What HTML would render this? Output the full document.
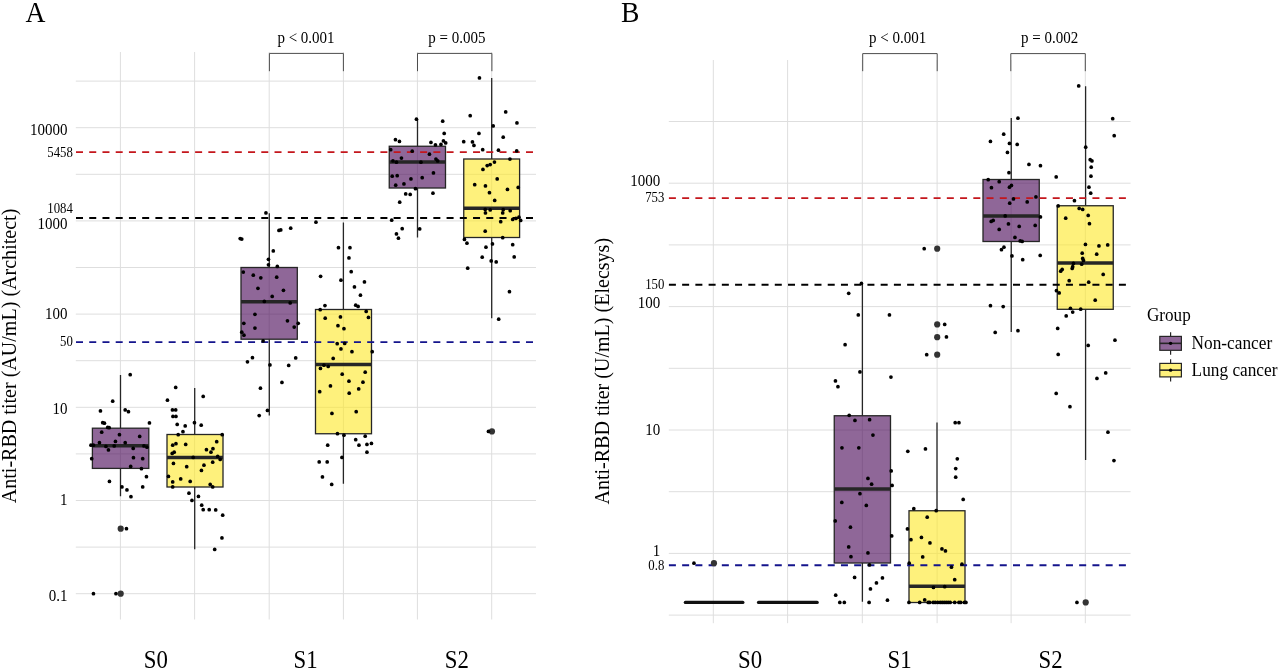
<!DOCTYPE html>
<html lang="en">
<head>
<meta charset="utf-8">
<title>Anti-RBD titer by group</title>
<style>
html,body{margin:0;padding:0;background:#fff;}
body{width:1280px;height:671px;overflow:hidden;font-family:"Liberation Serif",serif;}
svg{display:block;}
svg text{font-family:"Liberation Serif",serif;}
</style>
</head>
<body>
<svg width="1280" height="671" viewBox="0 0 1280 671" fill="#000">
<rect width="1280" height="671" fill="#fff"/>
<g stroke="#dedede" stroke-width="1" fill="none">
<line x1="120.4" y1="52" x2="120.4" y2="619.5"/>
<line x1="194.6" y1="52" x2="194.6" y2="619.5"/>
<line x1="269.2" y1="52" x2="269.2" y2="619.5"/>
<line x1="343.4" y1="52" x2="343.4" y2="619.5"/>
<line x1="417.4" y1="52" x2="417.4" y2="619.5"/>
<line x1="491.7" y1="52" x2="491.7" y2="619.5"/>
<line x1="75.8" y1="81.1" x2="536" y2="81.1"/>
<line x1="75.8" y1="127.7" x2="536" y2="127.7"/>
<line x1="75.8" y1="174.3" x2="536" y2="174.3"/>
<line x1="75.8" y1="220.9" x2="536" y2="220.9"/>
<line x1="75.8" y1="267.5" x2="536" y2="267.5"/>
<line x1="75.8" y1="314.1" x2="536" y2="314.1"/>
<line x1="75.8" y1="360.7" x2="536" y2="360.7"/>
<line x1="75.8" y1="407.3" x2="536" y2="407.3"/>
<line x1="75.8" y1="453.9" x2="536" y2="453.9"/>
<line x1="75.8" y1="500.5" x2="536" y2="500.5"/>
<line x1="75.8" y1="547.1" x2="536" y2="547.1"/>
<line x1="75.8" y1="593.7" x2="536" y2="593.7"/>
</g>
<g stroke="#262626" stroke-width="1.3" fill="none">
<line x1="120.5" y1="375" x2="120.5" y2="428.2"/>
<line x1="120.5" y1="468.4" x2="120.5" y2="496.25"/>
<rect x="92.4" y="428.2" width="56.4" height="40.2" fill="#440154" fill-opacity="0.6"/>
<line x1="92.4" y1="445.75" x2="148.8" y2="445.75" stroke-width="3.3"/>
</g>
<g stroke="#262626" stroke-width="1.3" fill="none">
<line x1="194.7" y1="388" x2="194.7" y2="434.5"/>
<line x1="194.7" y1="487" x2="194.7" y2="549.25"/>
<rect x="167" y="434.5" width="56" height="52.5" fill="#FDE725" fill-opacity="0.6"/>
<line x1="167" y1="457.5" x2="223" y2="457.5" stroke-width="3.3"/>
</g>
<g stroke="#262626" stroke-width="1.3" fill="none">
<line x1="269.3" y1="213.25" x2="269.3" y2="267.5"/>
<line x1="269.3" y1="339.2" x2="269.3" y2="415.4"/>
<rect x="241" y="267.5" width="56.3" height="71.7" fill="#440154" fill-opacity="0.6"/>
<line x1="241" y1="301.75" x2="297.3" y2="301.75" stroke-width="3.3"/>
</g>
<g stroke="#262626" stroke-width="1.3" fill="none">
<line x1="343.4" y1="222.5" x2="343.4" y2="309.5"/>
<line x1="343.4" y1="433.75" x2="343.4" y2="483.75"/>
<rect x="315.5" y="309.5" width="56" height="124.25" fill="#FDE725" fill-opacity="0.6"/>
<line x1="315.5" y1="364.5" x2="371.5" y2="364.5" stroke-width="3.3"/>
</g>
<g stroke="#262626" stroke-width="1.3" fill="none">
<line x1="417.5" y1="119" x2="417.5" y2="146.25"/>
<line x1="417.5" y1="188" x2="417.5" y2="237.5"/>
<rect x="389.25" y="146.25" width="56.25" height="41.75" fill="#440154" fill-opacity="0.6"/>
<line x1="389.25" y1="162" x2="445.5" y2="162" stroke-width="3.3"/>
</g>
<g stroke="#262626" stroke-width="1.3" fill="none">
<line x1="491.7" y1="78" x2="491.7" y2="159"/>
<line x1="491.7" y1="237.5" x2="491.7" y2="318.25"/>
<rect x="463.75" y="159" width="55.85" height="78.5" fill="#FDE725" fill-opacity="0.6"/>
<line x1="463.75" y1="208.25" x2="519.6" y2="208.25" stroke-width="3.3"/>
</g>
<g stroke-width="1.8" stroke-dasharray="7 6.235" fill="none">
<line x1="76" y1="152.2" x2="536.5" y2="152.2" stroke="#c4161c"/>
<line x1="76" y1="218" x2="536.5" y2="218" stroke="#000000"/>
<line x1="76" y1="342.2" x2="536.5" y2="342.2" stroke="#14148c"/>
</g>
<g fill="#333">
<circle cx="120.7" cy="528.7" r="3.1"/>
<circle cx="120.7" cy="593.7" r="3.1"/>
<circle cx="491.95" cy="431.45" r="3.1"/>
</g>
<g fill="#000">
<circle cx="479.45" cy="77.95" r="1.85"/>
<circle cx="416.45" cy="119.2" r="1.85"/>
<circle cx="442.7" cy="121.2" r="1.85"/>
<circle cx="470.2" cy="115.7" r="1.85"/>
<circle cx="505.7" cy="111.95" r="1.85"/>
<circle cx="516.95" cy="122.95" r="1.85"/>
<circle cx="493.2" cy="125.95" r="1.85"/>
<circle cx="444.2" cy="133.45" r="1.85"/>
<circle cx="478.95" cy="133.45" r="1.85"/>
<circle cx="503.2" cy="137.2" r="1.85"/>
<circle cx="395.45" cy="139.7" r="1.85"/>
<circle cx="399.45" cy="141.45" r="1.85"/>
<circle cx="430.95" cy="142.45" r="1.85"/>
<circle cx="435.45" cy="144.95" r="1.85"/>
<circle cx="440.95" cy="144.45" r="1.85"/>
<circle cx="443.45" cy="140.95" r="1.85"/>
<circle cx="445.7" cy="142.95" r="1.85"/>
<circle cx="463.7" cy="141.7" r="1.85"/>
<circle cx="472.45" cy="141.95" r="1.85"/>
<circle cx="473.95" cy="145.45" r="1.85"/>
<circle cx="482.7" cy="149.7" r="1.85"/>
<circle cx="498.45" cy="150.2" r="1.85"/>
<circle cx="516.7" cy="150.95" r="1.85"/>
<circle cx="390.7" cy="149.7" r="1.85"/>
<circle cx="412.2" cy="151.2" r="1.85"/>
<circle cx="429.45" cy="154.2" r="1.85"/>
<circle cx="401.45" cy="158.1" r="1.85"/>
<circle cx="392.95" cy="160.95" r="1.85"/>
<circle cx="396.45" cy="162.2" r="1.85"/>
<circle cx="420.95" cy="162.2" r="1.85"/>
<circle cx="435.95" cy="159.1" r="1.85"/>
<circle cx="437.7" cy="160.95" r="1.85"/>
<circle cx="509.95" cy="159.1" r="1.85"/>
<circle cx="494.45" cy="162.1" r="1.85"/>
<circle cx="490.2" cy="164.6" r="1.85"/>
<circle cx="487.2" cy="165.6" r="1.85"/>
<circle cx="433.45" cy="172.95" r="1.85"/>
<circle cx="422.2" cy="177.7" r="1.85"/>
<circle cx="392.2" cy="176.2" r="1.85"/>
<circle cx="397.2" cy="175.7" r="1.85"/>
<circle cx="410.95" cy="178.95" r="1.85"/>
<circle cx="403.95" cy="183.95" r="1.85"/>
<circle cx="395.7" cy="185.2" r="1.85"/>
<circle cx="415.45" cy="188.7" r="1.85"/>
<circle cx="405.7" cy="193.95" r="1.85"/>
<circle cx="410.2" cy="194.45" r="1.85"/>
<circle cx="432.95" cy="193.2" r="1.85"/>
<circle cx="399.7" cy="202.2" r="1.85"/>
<circle cx="391.7" cy="220.2" r="1.85"/>
<circle cx="402.2" cy="228.7" r="1.85"/>
<circle cx="419.7" cy="228.95" r="1.85"/>
<circle cx="396.45" cy="233.95" r="1.85"/>
<circle cx="398.45" cy="238.2" r="1.85"/>
<circle cx="482.95" cy="169.45" r="1.85"/>
<circle cx="497.2" cy="178.95" r="1.85"/>
<circle cx="474.7" cy="184.7" r="1.85"/>
<circle cx="485.45" cy="185.95" r="1.85"/>
<circle cx="518.2" cy="187.45" r="1.85"/>
<circle cx="507.45" cy="189.45" r="1.85"/>
<circle cx="489.45" cy="192.7" r="1.85"/>
<circle cx="494.7" cy="200.45" r="1.85"/>
<circle cx="485.2" cy="209.45" r="1.85"/>
<circle cx="490.2" cy="209.95" r="1.85"/>
<circle cx="503.2" cy="209.7" r="1.85"/>
<circle cx="510.2" cy="210.7" r="1.85"/>
<circle cx="485.45" cy="212.95" r="1.85"/>
<circle cx="502.7" cy="212.95" r="1.85"/>
<circle cx="518.95" cy="217.2" r="1.85"/>
<circle cx="515.95" cy="218.45" r="1.85"/>
<circle cx="512.7" cy="219.45" r="1.85"/>
<circle cx="520.7" cy="220.45" r="1.85"/>
<circle cx="500.7" cy="221.7" r="1.85"/>
<circle cx="485.2" cy="231.2" r="1.85"/>
<circle cx="502.7" cy="237.7" r="1.85"/>
<circle cx="464.45" cy="239.45" r="1.85"/>
<circle cx="466.95" cy="243.2" r="1.85"/>
<circle cx="492.45" cy="243.95" r="1.85"/>
<circle cx="512.7" cy="244.7" r="1.85"/>
<circle cx="485.95" cy="247.2" r="1.85"/>
<circle cx="482.2" cy="257.2" r="1.85"/>
<circle cx="514.2" cy="256.95" r="1.85"/>
<circle cx="491.2" cy="260.95" r="1.85"/>
<circle cx="496.2" cy="261.95" r="1.85"/>
<circle cx="467.7" cy="268.2" r="1.85"/>
<circle cx="509.45" cy="291.7" r="1.85"/>
<circle cx="498.7" cy="319.2" r="1.85"/>
<circle cx="488.45" cy="431.45" r="1.85"/>
<circle cx="265.95" cy="212.95" r="1.85"/>
<circle cx="240.2" cy="238.6" r="1.85"/>
<circle cx="241.8" cy="239.1" r="1.85"/>
<circle cx="278.95" cy="230.45" r="1.85"/>
<circle cx="280.8" cy="229.95" r="1.85"/>
<circle cx="290.7" cy="228.2" r="1.85"/>
<circle cx="273.3" cy="250.95" r="1.85"/>
<circle cx="268.45" cy="259.3" r="1.85"/>
<circle cx="268.45" cy="264.8" r="1.85"/>
<circle cx="277.3" cy="266.45" r="1.85"/>
<circle cx="243.3" cy="272.1" r="1.85"/>
<circle cx="253.3" cy="275.2" r="1.85"/>
<circle cx="260.8" cy="277.8" r="1.85"/>
<circle cx="276.7" cy="277.2" r="1.85"/>
<circle cx="257.95" cy="288.3" r="1.85"/>
<circle cx="283.45" cy="290.3" r="1.85"/>
<circle cx="272.2" cy="296.45" r="1.85"/>
<circle cx="264.3" cy="301.45" r="1.85"/>
<circle cx="290.2" cy="302.95" r="1.85"/>
<circle cx="254.95" cy="314.3" r="1.85"/>
<circle cx="287.45" cy="320.8" r="1.85"/>
<circle cx="243.8" cy="323.3" r="1.85"/>
<circle cx="298.2" cy="323.3" r="1.85"/>
<circle cx="254.95" cy="328.1" r="1.85"/>
<circle cx="294.2" cy="327.1" r="1.85"/>
<circle cx="241.8" cy="332.2" r="1.85"/>
<circle cx="243.95" cy="335.2" r="1.85"/>
<circle cx="263.1" cy="340.95" r="1.85"/>
<circle cx="252.45" cy="357.7" r="1.85"/>
<circle cx="247.45" cy="361.8" r="1.85"/>
<circle cx="295.7" cy="357.95" r="1.85"/>
<circle cx="269.95" cy="364.95" r="1.85"/>
<circle cx="288.7" cy="365.45" r="1.85"/>
<circle cx="281.95" cy="382.45" r="1.85"/>
<circle cx="260.45" cy="388.2" r="1.85"/>
<circle cx="267.45" cy="410.45" r="1.85"/>
<circle cx="259.2" cy="415.6" r="1.85"/>
<circle cx="315.95" cy="222.2" r="1.85"/>
<circle cx="338.45" cy="247.7" r="1.85"/>
<circle cx="349.95" cy="247.7" r="1.85"/>
<circle cx="348.95" cy="257.95" r="1.85"/>
<circle cx="351.2" cy="271.7" r="1.85"/>
<circle cx="320.6" cy="276.3" r="1.85"/>
<circle cx="340.95" cy="280.2" r="1.85"/>
<circle cx="364.45" cy="281.95" r="1.85"/>
<circle cx="354.45" cy="286.95" r="1.85"/>
<circle cx="360.45" cy="295.2" r="1.85"/>
<circle cx="324.95" cy="305.6" r="1.85"/>
<circle cx="355.7" cy="305.2" r="1.85"/>
<circle cx="358.1" cy="306.45" r="1.85"/>
<circle cx="320.2" cy="309.7" r="1.85"/>
<circle cx="366.2" cy="311.45" r="1.85"/>
<circle cx="325.2" cy="318.2" r="1.85"/>
<circle cx="340.45" cy="316.95" r="1.85"/>
<circle cx="368.45" cy="317.45" r="1.85"/>
<circle cx="337.95" cy="325.7" r="1.85"/>
<circle cx="343.95" cy="328.7" r="1.85"/>
<circle cx="337.2" cy="343.7" r="1.85"/>
<circle cx="344.7" cy="343.45" r="1.85"/>
<circle cx="340.95" cy="348.95" r="1.85"/>
<circle cx="351.95" cy="351.7" r="1.85"/>
<circle cx="372.2" cy="351.7" r="1.85"/>
<circle cx="333.2" cy="358.45" r="1.85"/>
<circle cx="323.95" cy="365.2" r="1.85"/>
<circle cx="328.2" cy="366.45" r="1.85"/>
<circle cx="320.45" cy="368.45" r="1.85"/>
<circle cx="365.2" cy="372.2" r="1.85"/>
<circle cx="342.2" cy="374.2" r="1.85"/>
<circle cx="348.95" cy="381.2" r="1.85"/>
<circle cx="362.95" cy="382.2" r="1.85"/>
<circle cx="330.45" cy="385.95" r="1.85"/>
<circle cx="358.7" cy="388.95" r="1.85"/>
<circle cx="319.7" cy="391.7" r="1.85"/>
<circle cx="349.2" cy="393.2" r="1.85"/>
<circle cx="356.2" cy="411.7" r="1.85"/>
<circle cx="331.95" cy="413.45" r="1.85"/>
<circle cx="337.45" cy="433.7" r="1.85"/>
<circle cx="343.95" cy="435.2" r="1.85"/>
<circle cx="365.2" cy="436.2" r="1.85"/>
<circle cx="355.7" cy="439.7" r="1.85"/>
<circle cx="327.7" cy="445.2" r="1.85"/>
<circle cx="358.95" cy="445.2" r="1.85"/>
<circle cx="366.95" cy="444.45" r="1.85"/>
<circle cx="371.45" cy="443.45" r="1.85"/>
<circle cx="366.95" cy="452.2" r="1.85"/>
<circle cx="341.95" cy="457.45" r="1.85"/>
<circle cx="319.2" cy="461.95" r="1.85"/>
<circle cx="327.2" cy="461.95" r="1.85"/>
<circle cx="322.45" cy="476.95" r="1.85"/>
<circle cx="331.7" cy="484.45" r="1.85"/>
<circle cx="130.2" cy="374.7" r="1.85"/>
<circle cx="112.7" cy="401.2" r="1.85"/>
<circle cx="100.45" cy="410.95" r="1.85"/>
<circle cx="125.2" cy="409.95" r="1.85"/>
<circle cx="128.45" cy="411.7" r="1.85"/>
<circle cx="149.45" cy="422.95" r="1.85"/>
<circle cx="102.7" cy="422.7" r="1.85"/>
<circle cx="104.45" cy="423.2" r="1.85"/>
<circle cx="107.7" cy="427.45" r="1.85"/>
<circle cx="109.2" cy="427.7" r="1.85"/>
<circle cx="101.7" cy="432.2" r="1.85"/>
<circle cx="119.45" cy="434.7" r="1.85"/>
<circle cx="139.7" cy="436.45" r="1.85"/>
<circle cx="115.45" cy="441.45" r="1.85"/>
<circle cx="99.45" cy="442.7" r="1.85"/>
<circle cx="125.2" cy="442.7" r="1.85"/>
<circle cx="90.95" cy="445.2" r="1.85"/>
<circle cx="93.45" cy="445.2" r="1.85"/>
<circle cx="105.95" cy="446.45" r="1.85"/>
<circle cx="114.2" cy="445.95" r="1.85"/>
<circle cx="143.95" cy="445.95" r="1.85"/>
<circle cx="146.95" cy="447.2" r="1.85"/>
<circle cx="133.2" cy="448.45" r="1.85"/>
<circle cx="108.45" cy="449.95" r="1.85"/>
<circle cx="133.45" cy="457.7" r="1.85"/>
<circle cx="91.7" cy="458.7" r="1.85"/>
<circle cx="142.7" cy="458.7" r="1.85"/>
<circle cx="130.7" cy="466.45" r="1.85"/>
<circle cx="141.45" cy="468.7" r="1.85"/>
<circle cx="146.45" cy="476.7" r="1.85"/>
<circle cx="109.45" cy="481.45" r="1.85"/>
<circle cx="121.95" cy="486.95" r="1.85"/>
<circle cx="142.7" cy="486.95" r="1.85"/>
<circle cx="126.95" cy="489.95" r="1.85"/>
<circle cx="130.95" cy="496.7" r="1.85"/>
<circle cx="126.45" cy="528.7" r="1.85"/>
<circle cx="115.95" cy="593.7" r="1.85"/>
<circle cx="93.45" cy="593.7" r="1.85"/>
<circle cx="175.7" cy="387.45" r="1.85"/>
<circle cx="203.2" cy="396.45" r="1.85"/>
<circle cx="167.45" cy="400.2" r="1.85"/>
<circle cx="172.45" cy="409.95" r="1.85"/>
<circle cx="175.7" cy="409.95" r="1.85"/>
<circle cx="172.95" cy="416.45" r="1.85"/>
<circle cx="175.95" cy="416.45" r="1.85"/>
<circle cx="194.45" cy="422.7" r="1.85"/>
<circle cx="177.2" cy="424.45" r="1.85"/>
<circle cx="185.2" cy="425.95" r="1.85"/>
<circle cx="201.2" cy="425.2" r="1.85"/>
<circle cx="182.95" cy="431.7" r="1.85"/>
<circle cx="178.2" cy="434.7" r="1.85"/>
<circle cx="222.2" cy="434.7" r="1.85"/>
<circle cx="216.7" cy="441.7" r="1.85"/>
<circle cx="175.95" cy="443.7" r="1.85"/>
<circle cx="172.7" cy="445.2" r="1.85"/>
<circle cx="185.7" cy="444.45" r="1.85"/>
<circle cx="212.95" cy="448.7" r="1.85"/>
<circle cx="206.45" cy="449.7" r="1.85"/>
<circle cx="210.95" cy="452.2" r="1.85"/>
<circle cx="174.2" cy="452.2" r="1.85"/>
<circle cx="172.2" cy="453.45" r="1.85"/>
<circle cx="193.2" cy="457.45" r="1.85"/>
<circle cx="217.7" cy="456.45" r="1.85"/>
<circle cx="220.2" cy="459.45" r="1.85"/>
<circle cx="212.7" cy="462.2" r="1.85"/>
<circle cx="173.45" cy="463.45" r="1.85"/>
<circle cx="186.7" cy="466.7" r="1.85"/>
<circle cx="203.95" cy="465.2" r="1.85"/>
<circle cx="201.45" cy="470.45" r="1.85"/>
<circle cx="168.45" cy="476.45" r="1.85"/>
<circle cx="180.7" cy="478.95" r="1.85"/>
<circle cx="172.7" cy="481.95" r="1.85"/>
<circle cx="190.2" cy="481.45" r="1.85"/>
<circle cx="210.2" cy="484.45" r="1.85"/>
<circle cx="212.7" cy="486.95" r="1.85"/>
<circle cx="172.7" cy="486.95" r="1.85"/>
<circle cx="188.95" cy="493.2" r="1.85"/>
<circle cx="198.45" cy="496.45" r="1.85"/>
<circle cx="191.95" cy="500.45" r="1.85"/>
<circle cx="201.7" cy="505.2" r="1.85"/>
<circle cx="203.2" cy="509.7" r="1.85"/>
<circle cx="209.2" cy="509.7" r="1.85"/>
<circle cx="215.7" cy="509.95" r="1.85"/>
<circle cx="222.7" cy="515.2" r="1.85"/>
<circle cx="221.95" cy="537.95" r="1.85"/>
<circle cx="214.7" cy="549.45" r="1.85"/>
</g>
<path d="M269.4 71.2V53.4H343.4V71.2" stroke="#4d4d4d" stroke-width="1" fill="none"/>
<path d="M417.5 71.2V53.4H491.9V71.2" stroke="#4d4d4d" stroke-width="1" fill="none"/>
<g stroke="#dedede" stroke-width="1" fill="none">
<line x1="713.3" y1="60" x2="713.3" y2="623.2"/>
<line x1="787.6" y1="60" x2="787.6" y2="623.2"/>
<line x1="862.3" y1="60" x2="862.3" y2="623.2"/>
<line x1="937.1" y1="60" x2="937.1" y2="623.2"/>
<line x1="1011.1" y1="60" x2="1011.1" y2="623.2"/>
<line x1="1085.3" y1="60" x2="1085.3" y2="623.2"/>
<line x1="668.8" y1="121.5" x2="1130.6" y2="121.5"/>
<line x1="668.8" y1="183.2" x2="1130.6" y2="183.2"/>
<line x1="668.8" y1="244.9" x2="1130.6" y2="244.9"/>
<line x1="668.8" y1="306.6" x2="1130.6" y2="306.6"/>
<line x1="668.8" y1="368.3" x2="1130.6" y2="368.3"/>
<line x1="668.8" y1="430" x2="1130.6" y2="430"/>
<line x1="668.8" y1="491.7" x2="1130.6" y2="491.7"/>
<line x1="668.8" y1="553.4" x2="1130.6" y2="553.4"/>
<line x1="668.8" y1="615.1" x2="1130.6" y2="615.1"/>
</g>
<g stroke="#262626" stroke-width="1.3" fill="none">
<line x1="862.4" y1="283.25" x2="862.4" y2="415.75"/>
<line x1="862.4" y1="563" x2="862.4" y2="601.75"/>
<rect x="834.25" y="415.75" width="56.25" height="147.25" fill="#440154" fill-opacity="0.6"/>
<line x1="834.25" y1="489" x2="890.5" y2="489" stroke-width="3.3"/>
</g>
<g stroke="#262626" stroke-width="1.3" fill="none">
<line x1="937" y1="422.5" x2="937" y2="510.75"/>
<line x1="937" y1="602.5" x2="937" y2="602.5"/>
<rect x="909" y="510.75" width="56" height="91.75" fill="#FDE725" fill-opacity="0.6"/>
<line x1="909" y1="586.25" x2="965" y2="586.25" stroke-width="3.3"/>
</g>
<g stroke="#262626" stroke-width="1.3" fill="none">
<line x1="1011.25" y1="118" x2="1011.25" y2="179.5"/>
<line x1="1011.25" y1="241.5" x2="1011.25" y2="332"/>
<rect x="983" y="179.5" width="56.25" height="62" fill="#440154" fill-opacity="0.6"/>
<line x1="983" y1="216" x2="1039.25" y2="216" stroke-width="3.3"/>
</g>
<g stroke="#262626" stroke-width="1.3" fill="none">
<line x1="1085.6" y1="86.25" x2="1085.6" y2="205.75"/>
<line x1="1085.6" y1="309.3" x2="1085.6" y2="460"/>
<rect x="1057.25" y="205.75" width="56" height="103.55" fill="#FDE725" fill-opacity="0.6"/>
<line x1="1057.25" y1="263" x2="1113.25" y2="263" stroke-width="3.3"/>
</g>
<g stroke="#111" stroke-width="3.4" stroke-linecap="round"><line x1="685.4" y1="602.4" x2="742.8" y2="602.4"/><line x1="758.6" y1="602.4" x2="817.1" y2="602.4"/></g>
<g stroke-width="1.8" stroke-dasharray="7 6.235" fill="none">
<line x1="668.9" y1="198.2" x2="1130.5" y2="198.2" stroke="#c4161c"/>
<line x1="668.9" y1="284.75" x2="1130.5" y2="284.75" stroke="#000000"/>
<line x1="668.9" y1="565.25" x2="1130.5" y2="565.25" stroke="#14148c"/>
</g>
<g fill="#333">
<circle cx="713.95" cy="563.2" r="3.1"/>
<circle cx="937.2" cy="248.7" r="3.1"/>
<circle cx="937.2" cy="324.45" r="3.1"/>
<circle cx="937.2" cy="337.2" r="3.1"/>
<circle cx="937.2" cy="354.7" r="3.1"/>
<circle cx="1085.7" cy="602.45" r="3.1"/>
</g>
<g fill="#000">
<circle cx="1078.7" cy="85.95" r="1.85"/>
<circle cx="1017.95" cy="118.2" r="1.85"/>
<circle cx="1112.7" cy="118.7" r="1.85"/>
<circle cx="1003.7" cy="134.2" r="1.85"/>
<circle cx="1114.2" cy="135.7" r="1.85"/>
<circle cx="990.45" cy="141.45" r="1.85"/>
<circle cx="1009.45" cy="143.45" r="1.85"/>
<circle cx="1017.2" cy="144.45" r="1.85"/>
<circle cx="1085.7" cy="147.2" r="1.85"/>
<circle cx="1007.45" cy="152.45" r="1.85"/>
<circle cx="1090.2" cy="159.7" r="1.85"/>
<circle cx="1091.95" cy="160.95" r="1.85"/>
<circle cx="1028.95" cy="164.45" r="1.85"/>
<circle cx="1040.45" cy="165.7" r="1.85"/>
<circle cx="1091.2" cy="167.2" r="1.85"/>
<circle cx="1008.95" cy="172.7" r="1.85"/>
<circle cx="988.2" cy="179.7" r="1.85"/>
<circle cx="999.2" cy="181.7" r="1.85"/>
<circle cx="1011.45" cy="185.45" r="1.85"/>
<circle cx="1009.45" cy="187.2" r="1.85"/>
<circle cx="991.45" cy="187.7" r="1.85"/>
<circle cx="1035.95" cy="196.95" r="1.85"/>
<circle cx="1013.45" cy="198.95" r="1.85"/>
<circle cx="1027.2" cy="201.95" r="1.85"/>
<circle cx="1009.7" cy="203.2" r="1.85"/>
<circle cx="1005.2" cy="215.95" r="1.85"/>
<circle cx="1040.45" cy="216.95" r="1.85"/>
<circle cx="993.2" cy="220.45" r="1.85"/>
<circle cx="991.2" cy="221.45" r="1.85"/>
<circle cx="1008.45" cy="223.95" r="1.85"/>
<circle cx="1019.2" cy="226.45" r="1.85"/>
<circle cx="1035.2" cy="225.45" r="1.85"/>
<circle cx="999.2" cy="229.45" r="1.85"/>
<circle cx="1014.95" cy="237.45" r="1.85"/>
<circle cx="1020.2" cy="240.95" r="1.85"/>
<circle cx="1022.2" cy="241.45" r="1.85"/>
<circle cx="1003.95" cy="247.2" r="1.85"/>
<circle cx="1001.45" cy="249.7" r="1.85"/>
<circle cx="1011.95" cy="255.95" r="1.85"/>
<circle cx="1022.7" cy="259.7" r="1.85"/>
<circle cx="1040.2" cy="255.45" r="1.85"/>
<circle cx="990.45" cy="305.7" r="1.85"/>
<circle cx="1003.2" cy="306.6" r="1.85"/>
<circle cx="995.2" cy="332.45" r="1.85"/>
<circle cx="1017.95" cy="330.7" r="1.85"/>
<circle cx="1056.2" cy="176.95" r="1.85"/>
<circle cx="1090.95" cy="176.2" r="1.85"/>
<circle cx="1088.95" cy="187.2" r="1.85"/>
<circle cx="1090.7" cy="193.2" r="1.85"/>
<circle cx="1074.45" cy="200.7" r="1.85"/>
<circle cx="1058.2" cy="205.95" r="1.85"/>
<circle cx="1079.2" cy="208.45" r="1.85"/>
<circle cx="1082.7" cy="209.45" r="1.85"/>
<circle cx="1088.2" cy="215.45" r="1.85"/>
<circle cx="1065.7" cy="218.2" r="1.85"/>
<circle cx="1089.45" cy="223.7" r="1.85"/>
<circle cx="1085.45" cy="244.45" r="1.85"/>
<circle cx="1098.95" cy="245.95" r="1.85"/>
<circle cx="1107.7" cy="244.95" r="1.85"/>
<circle cx="1082.2" cy="253.2" r="1.85"/>
<circle cx="1096.7" cy="254.2" r="1.85"/>
<circle cx="1082.7" cy="258.45" r="1.85"/>
<circle cx="1083.45" cy="260.45" r="1.85"/>
<circle cx="1073.45" cy="263.45" r="1.85"/>
<circle cx="1081.7" cy="264.2" r="1.85"/>
<circle cx="1072.7" cy="266.7" r="1.85"/>
<circle cx="1072.2" cy="268.45" r="1.85"/>
<circle cx="1062.2" cy="269.45" r="1.85"/>
<circle cx="1060.7" cy="271.2" r="1.85"/>
<circle cx="1103.2" cy="274.45" r="1.85"/>
<circle cx="1069.2" cy="280.7" r="1.85"/>
<circle cx="1088.7" cy="282.2" r="1.85"/>
<circle cx="1056.45" cy="290.7" r="1.85"/>
<circle cx="1059.2" cy="292.95" r="1.85"/>
<circle cx="1095.2" cy="300.2" r="1.85"/>
<circle cx="1070.45" cy="308.3" r="1.85"/>
<circle cx="1080.7" cy="309.2" r="1.85"/>
<circle cx="1072.7" cy="312.1" r="1.85"/>
<circle cx="1066.2" cy="315.95" r="1.85"/>
<circle cx="1057.7" cy="328.45" r="1.85"/>
<circle cx="1114.95" cy="340.2" r="1.85"/>
<circle cx="1088.2" cy="345.45" r="1.85"/>
<circle cx="1058.2" cy="354.45" r="1.85"/>
<circle cx="1105.7" cy="372.95" r="1.85"/>
<circle cx="1096.95" cy="378.45" r="1.85"/>
<circle cx="1056.2" cy="393.45" r="1.85"/>
<circle cx="1069.95" cy="406.7" r="1.85"/>
<circle cx="1107.95" cy="432.2" r="1.85"/>
<circle cx="1113.95" cy="460.6" r="1.85"/>
<circle cx="1076.95" cy="602.45" r="1.85"/>
<circle cx="861.45" cy="283.45" r="1.85"/>
<circle cx="848.7" cy="293.3" r="1.85"/>
<circle cx="858.3" cy="314.95" r="1.85"/>
<circle cx="889.45" cy="314.95" r="1.85"/>
<circle cx="845.1" cy="344.7" r="1.85"/>
<circle cx="859.95" cy="371.95" r="1.85"/>
<circle cx="890.95" cy="377.1" r="1.85"/>
<circle cx="835.45" cy="380.95" r="1.85"/>
<circle cx="837.95" cy="386.7" r="1.85"/>
<circle cx="849.2" cy="415.3" r="1.85"/>
<circle cx="854.95" cy="420.45" r="1.85"/>
<circle cx="869.6" cy="419.7" r="1.85"/>
<circle cx="872.95" cy="435.1" r="1.85"/>
<circle cx="841.95" cy="447.8" r="1.85"/>
<circle cx="858.8" cy="447.8" r="1.85"/>
<circle cx="891.2" cy="470.95" r="1.85"/>
<circle cx="867.95" cy="478.45" r="1.85"/>
<circle cx="871.6" cy="484.2" r="1.85"/>
<circle cx="892.1" cy="485.45" r="1.85"/>
<circle cx="859.95" cy="493.7" r="1.85"/>
<circle cx="841.8" cy="502.45" r="1.85"/>
<circle cx="866.3" cy="505.45" r="1.85"/>
<circle cx="835.2" cy="520.95" r="1.85"/>
<circle cx="850.45" cy="527.2" r="1.85"/>
<circle cx="891.7" cy="535.95" r="1.85"/>
<circle cx="848.7" cy="546.95" r="1.85"/>
<circle cx="867.95" cy="552.95" r="1.85"/>
<circle cx="850.95" cy="556.7" r="1.85"/>
<circle cx="869.45" cy="564.95" r="1.85"/>
<circle cx="854.6" cy="577.45" r="1.85"/>
<circle cx="882.45" cy="577.95" r="1.85"/>
<circle cx="876.45" cy="582.95" r="1.85"/>
<circle cx="870.45" cy="588.95" r="1.85"/>
<circle cx="835.7" cy="595.2" r="1.85"/>
<circle cx="887.45" cy="600.2" r="1.85"/>
<circle cx="869.1" cy="602.45" r="1.85"/>
<circle cx="839.8" cy="602.45" r="1.85"/>
<circle cx="844.3" cy="602.45" r="1.85"/>
<circle cx="924.2" cy="248.7" r="1.85"/>
<circle cx="944.7" cy="324.45" r="1.85"/>
<circle cx="946.45" cy="336.95" r="1.85"/>
<circle cx="926.7" cy="354.7" r="1.85"/>
<circle cx="955.2" cy="422.7" r="1.85"/>
<circle cx="958.95" cy="422.7" r="1.85"/>
<circle cx="907.8" cy="451.3" r="1.85"/>
<circle cx="925.45" cy="448.95" r="1.85"/>
<circle cx="957.3" cy="458.8" r="1.85"/>
<circle cx="955.7" cy="468.6" r="1.85"/>
<circle cx="955.7" cy="477.2" r="1.85"/>
<circle cx="963.2" cy="499.45" r="1.85"/>
<circle cx="913.8" cy="508.7" r="1.85"/>
<circle cx="936.2" cy="510.7" r="1.85"/>
<circle cx="927.2" cy="517.2" r="1.85"/>
<circle cx="907.45" cy="528.95" r="1.85"/>
<circle cx="910.95" cy="539.7" r="1.85"/>
<circle cx="921.45" cy="537.45" r="1.85"/>
<circle cx="929.95" cy="542.95" r="1.85"/>
<circle cx="941.95" cy="548.95" r="1.85"/>
<circle cx="945.45" cy="550.95" r="1.85"/>
<circle cx="922.7" cy="556.95" r="1.85"/>
<circle cx="909.2" cy="563.2" r="1.85"/>
<circle cx="961.95" cy="564.2" r="1.85"/>
<circle cx="951.45" cy="567.2" r="1.85"/>
<circle cx="954.7" cy="579.7" r="1.85"/>
<circle cx="933.45" cy="587.45" r="1.85"/>
<circle cx="944.7" cy="586.7" r="1.85"/>
<circle cx="924.7" cy="599.95" r="1.85"/>
<circle cx="908.95" cy="602.45" r="1.85"/>
<circle cx="919.7" cy="602.45" r="1.85"/>
<circle cx="928.2" cy="602.45" r="1.85"/>
<circle cx="929.7" cy="602.45" r="1.85"/>
<circle cx="933.2" cy="602.45" r="1.85"/>
<circle cx="935.2" cy="602.45" r="1.85"/>
<circle cx="937.7" cy="602.45" r="1.85"/>
<circle cx="940.2" cy="602.45" r="1.85"/>
<circle cx="942.2" cy="602.45" r="1.85"/>
<circle cx="944.2" cy="602.45" r="1.85"/>
<circle cx="946.2" cy="602.45" r="1.85"/>
<circle cx="948.2" cy="602.45" r="1.85"/>
<circle cx="950.2" cy="602.45" r="1.85"/>
<circle cx="954.7" cy="602.45" r="1.85"/>
<circle cx="958.95" cy="602.45" r="1.85"/>
<circle cx="960.7" cy="602.45" r="1.85"/>
<circle cx="964.45" cy="602.45" r="1.85"/>
<circle cx="965.95" cy="602.45" r="1.85"/>
<circle cx="693.95" cy="563.2" r="1.85"/>
</g>
<path d="M862.7 71.2V53.6H937.2V71.2" stroke="#4d4d4d" stroke-width="1" fill="none"/>
<path d="M1010.8 71.2V53.6H1085.3V71.2" stroke="#4d4d4d" stroke-width="1" fill="none"/>
<g font-family='"Liberation Serif", serif'>
<text transform="translate(25.5 21.7) scale(0.92 1)" font-size="30" text-anchor="start">A</text>
<text transform="translate(621 21.5) scale(0.92 1)" font-size="30" text-anchor="start">B</text>
<text transform="translate(306 43) scale(0.92 1)" font-size="16.3" text-anchor="middle">p &lt; 0.001</text>
<text transform="translate(456.8 43) scale(0.92 1)" font-size="16.3" text-anchor="middle">p = 0.005</text>
<text transform="translate(897.7 43) scale(0.92 1)" font-size="16.3" text-anchor="middle">p &lt; 0.001</text>
<text transform="translate(1049.6 43) scale(0.92 1)" font-size="16.3" text-anchor="middle">p = 0.002</text>
<text transform="translate(67.6 135) scale(0.92 1)" font-size="16.3" text-anchor="end">10000</text>
<text transform="translate(67.6 229) scale(0.92 1)" font-size="16.3" text-anchor="end">1000</text>
<text transform="translate(67.6 319) scale(0.92 1)" font-size="16.3" text-anchor="end">100</text>
<text transform="translate(67.6 413.75) scale(0.92 1)" font-size="16.3" text-anchor="end">10</text>
<text transform="translate(67.6 504.5) scale(0.92 1)" font-size="16.3" text-anchor="end">1</text>
<text transform="translate(67.6 601.25) scale(0.92 1)" font-size="16.3" text-anchor="end">0.1</text>
<text transform="translate(72.8 157.3) scale(0.92 1)" font-size="13.9" text-anchor="end">5458</text>
<text transform="translate(72.8 212.5) scale(0.92 1)" font-size="13.9" text-anchor="end">1084</text>
<text transform="translate(72.8 345.75) scale(0.92 1)" font-size="13.9" text-anchor="end">50</text>
<text transform="translate(660.2 186.25) scale(0.92 1)" font-size="16.3" text-anchor="end">1000</text>
<text transform="translate(660.2 308) scale(0.92 1)" font-size="16.3" text-anchor="end">100</text>
<text transform="translate(660.2 434.5) scale(0.92 1)" font-size="16.3" text-anchor="end">10</text>
<text transform="translate(660.2 556.25) scale(0.92 1)" font-size="16.3" text-anchor="end">1</text>
<text transform="translate(664.3 202) scale(0.92 1)" font-size="13.9" text-anchor="end">753</text>
<text transform="translate(664.3 289.25) scale(0.92 1)" font-size="13.9" text-anchor="end">150</text>
<text transform="translate(664.3 569.5) scale(0.92 1)" font-size="13.9" text-anchor="end">0.8</text>
<text transform="translate(155.8 668.2) scale(0.92 1)" font-size="24.8" text-anchor="middle">S0</text>
<text transform="translate(305.6 668.2) scale(0.92 1)" font-size="24.8" text-anchor="middle">S1</text>
<text transform="translate(456.8 668.2) scale(0.92 1)" font-size="24.8" text-anchor="middle">S2</text>
<text transform="translate(750 668.2) scale(0.92 1)" font-size="24.8" text-anchor="middle">S0</text>
<text transform="translate(899.6 668.2) scale(0.92 1)" font-size="24.8" text-anchor="middle">S1</text>
<text transform="translate(1050.5 668.2) scale(0.92 1)" font-size="24.8" text-anchor="middle">S2</text>
<text transform="translate(16.4 503.2) rotate(-90) scale(0.92 1)" font-size="21.8">Anti-RBD titer (AU/mL) (Architect)</text>
<text transform="translate(608.6 504.6) rotate(-90) scale(0.92 1)" font-size="21.8">Anti-RBD titer (U/mL) (Elecsys)</text>
<text transform="translate(1147 321.1) scale(0.92 1)" font-size="18.6" text-anchor="start">Group</text>
<text transform="translate(1191.6 348.5) scale(0.92 1)" font-size="18.8" text-anchor="start">Non-cancer</text>
<text transform="translate(1191.6 375.7) scale(0.92 1)" font-size="18.8" text-anchor="start">Lung cancer</text>
</g>
<g stroke="#262626" stroke-width="1.2" fill="none">
<line x1="1170.6" y1="332.3" x2="1170.6" y2="336.4"/>
<line x1="1170.6" y1="350.3" x2="1170.6" y2="354.8"/>
<rect x="1159.8" y="336.4" width="21.6" height="13.9" fill="#440154" fill-opacity="0.6"/>
<line x1="1159.8" y1="343.35" x2="1181.4" y2="343.35" stroke-width="1.6"/>
</g>
<circle cx="1170.6" cy="343.35" r="1.7" fill="#000"/>
<g stroke="#262626" stroke-width="1.2" fill="none">
<line x1="1170.6" y1="359.2" x2="1170.6" y2="363.4"/>
<line x1="1170.6" y1="376.9" x2="1170.6" y2="381.5"/>
<rect x="1159.8" y="363.4" width="21.6" height="13.5" fill="#FDE725" fill-opacity="0.6"/>
<line x1="1159.8" y1="370.15" x2="1181.4" y2="370.15" stroke-width="1.6"/>
</g>
<circle cx="1170.6" cy="370.15" r="1.7" fill="#000"/>
</svg>
</body>
</html>
